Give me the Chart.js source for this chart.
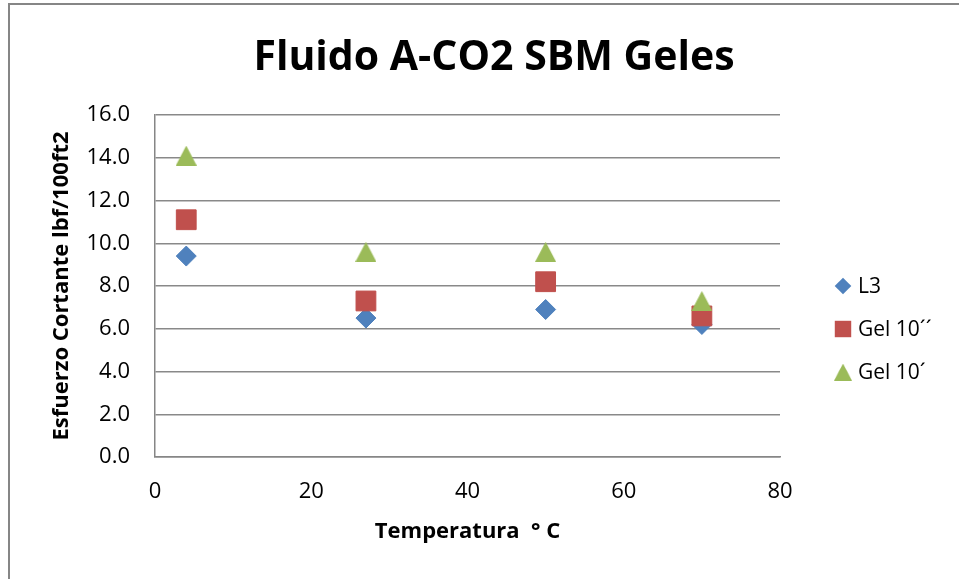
<!DOCTYPE html>
<html>
<head>
<meta charset="utf-8">
<script src="https://cdn.jsdelivr.net/npm/chart.js@4"></script>
<style>
    body { margin: 0; background: #fff; }
    #frame {
        position: absolute;
        left: 8px;
        top: 3px;
        width: 960px;
        height: 590px;
        border-left: 2px solid #868686;
        border-top: 2px solid #868686;
    }
    #wrap { position: absolute; left: 0; top: 0; width: 959px; height: 579px; }
</style>
</head>
<body>
<div id="frame"></div>
<div id="wrap"><canvas id="gelesChart"></canvas></div>
<script>
// Data
const temperatures = [4, 27, 50, 70];
const l3Values = [9.4, 6.5, 6.9, 6.2];
const gel10sValues = [11.1, 7.3, 8.2, 6.6];
const gel10mValues = [14.1, 9.6, 9.6, 7.3];
const seriesLabels = ["L3", "Gel 10´´", "Gel 10´"];

const chartTitle = "Fluido A-CO2 SBM Geles";
const yTitle = "Esfuerzo Cortante lbf/100ft2";
const xTitle = "Temperatura  ° C";

const FONT = "'Open Sans', 'Liberation Sans', sans-serif";
const GREEN = "#9BBB59";

function toPoints(values) {
    return temperatures.map((t, i) => ({ x: t, y: values[i] }));
}

// Excel triangle marker: box centred on the value (chart.js centres the centroid)
function makeTriangle(w, h, color) {
    const c = document.createElement("canvas");
    c.width = w;
    c.height = h;
    const g = c.getContext("2d");
    g.fillStyle = color;
    g.beginPath();
    g.moveTo(w / 2, 0);
    g.lineTo(w, h);
    g.lineTo(0, h);
    g.closePath();
    g.fill();
    return c;
}
const triangleMarker = makeTriangle(21, 20, GREEN);

// draws one legend marker
function drawMarker(ctx, style, x, y, r) {
    if (typeof style !== "string") {
        const w = style.width * 0.85;
        const h = style.height * 0.85;
        ctx.drawImage(style, x - w / 2, y - h / 2, w, h);
        return;
    }
    ctx.beginPath();
    if (style === "rectRot") {
        ctx.moveTo(x - r, y);
        ctx.lineTo(x, y - r);
        ctx.lineTo(x + r, y);
        ctx.lineTo(x, y + r);
    } else {
        const s = Math.SQRT1_2 * r;
        ctx.rect(x - s, y - s, 2 * s, 2 * s);
    }
    ctx.closePath();
    ctx.fill();
}

// Title + legend drawn Excel style
const excelDecor = {
    id: "excelDecor",
    afterDraw(chart) {
        const ctx = chart.ctx;
        const area = chart.chartArea;

        ctx.save();
        ctx.font = "bold 41px " + FONT;
        ctx.fillStyle = "#000";
        ctx.textAlign = "center";
        ctx.textBaseline = "middle";
        ctx.fillText(chartTitle, 494, 58);
        ctx.restore();

        const midY = (area.top + area.bottom) / 2;
        chart.data.datasets.forEach((ds, i) => {
            const y = midY + i * 43;
            const mx = area.right + 63;
            ctx.save();
            ctx.fillStyle = ds.backgroundColor;
            drawMarker(ctx, ds.pointStyle, mx, y, ds.pointRadius * 0.83);
            ctx.font = "21px " + FONT;
            ctx.fillStyle = "#000";
            ctx.textAlign = "left";
            ctx.textBaseline = "middle";
            ctx.fillText(ds.label, area.right + 78, y + 1);
            ctx.restore();
        });
    },
};

const ctx = document.getElementById("gelesChart").getContext("2d");

new Chart(ctx, {
    type: "scatter",
    data: {
        datasets: [
            {
                label: seriesLabels[0],
                data: toPoints(l3Values),
                pointStyle: "rectRot",
                pointRadius: 10,
                backgroundColor: "#4F81BD",
                borderColor: "#4F81BD",
                borderWidth: 1,
                order: 3,
            },
            {
                label: seriesLabels[1],
                data: toPoints(gel10sValues),
                pointStyle: "rect",
                pointRadius: 14,
                backgroundColor: "#C0504D",
                borderColor: "#C0504D",
                borderWidth: 1,
                order: 2,
            },
            {
                label: seriesLabels[2],
                data: toPoints(gel10mValues),
                pointStyle: triangleMarker,
                pointRadius: 12.5,
                backgroundColor: GREEN,
                borderColor: GREEN,
                borderWidth: 1,
                order: 1,
            },
        ],
    },
    options: {
        responsive: true,
        maintainAspectRatio: false,
        animation: false,
        layout: {
            padding: { top: 115, left: 20, right: 179, bottom: 0 },
        },
        plugins: {
            legend: { display: false },
            title: { display: false },
            tooltip: { enabled: false },
        },
        scales: {
            x: {
                type: "linear",
                min: 0,
                max: 80,
                afterFit: (scale) => {
                    scale.height = 122;
                },
                ticks: {
                    stepSize: 20,
                    padding: 22,
                    color: "#000",
                    font: { family: FONT, size: 22 },
                },
                grid: { display: false, drawTicks: false },
                border: { display: true, color: "#868686", width: 1.5 },
                title: {
                    display: true,
                    text: xTitle,
                    color: "#000",
                    font: { family: FONT, size: 22, weight: "bold" },
                    padding: { top: 0, bottom: 34 },
                },
            },
            y: {
                min: 0,
                max: 16,
                afterFit: (scale) => {
                    scale.width = 135;
                },
                ticks: {
                    stepSize: 2,
                    padding: 25,
                    color: "#000",
                    font: { family: FONT, size: 22 },
                    callback: (value) => value.toFixed(1),
                },
                grid: { color: "#898989", lineWidth: 1.5, drawTicks: false },
                border: { display: true, color: "#868686", width: 1.5 },
                title: {
                    display: true,
                    text: yTitle,
                    color: "#000",
                    font: { family: FONT, size: 22, weight: "bold" },
                    padding: { top: 29, bottom: 0 },
                },
            },
        },
    },
    plugins: [excelDecor],
});
</script>
</body>
</html>
